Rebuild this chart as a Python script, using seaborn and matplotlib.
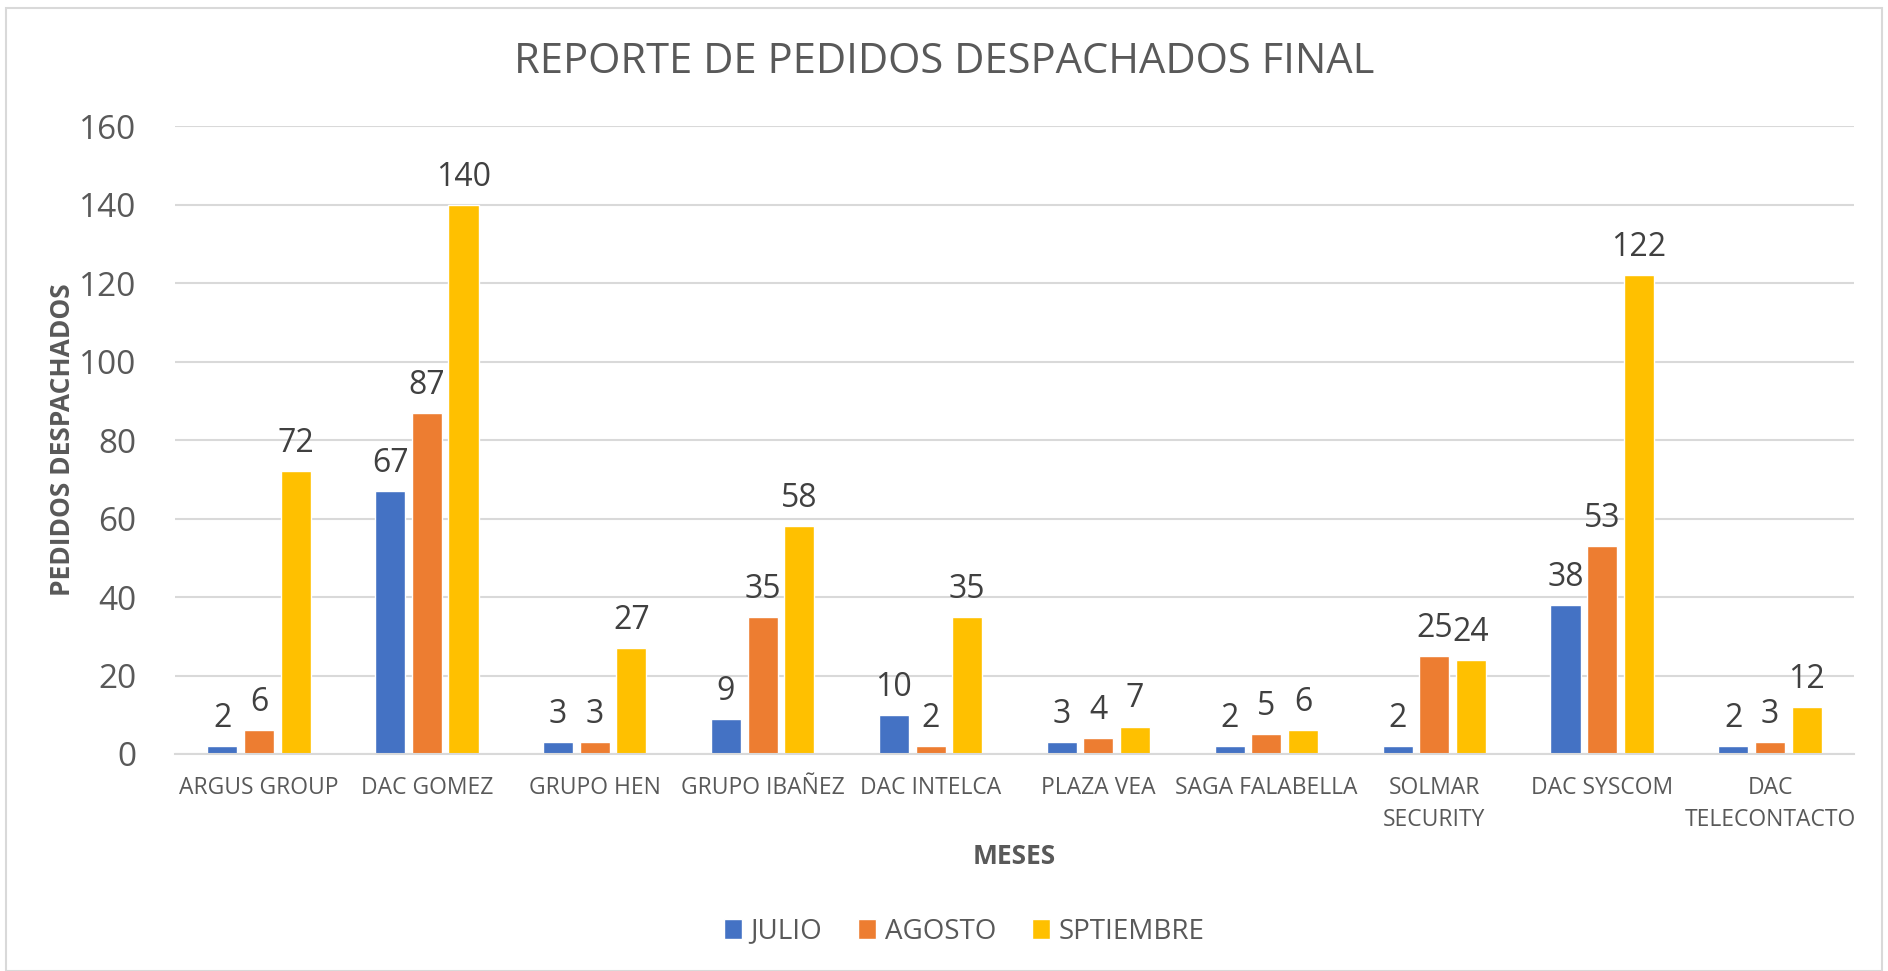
import pandas as pd
import seaborn as sns
import matplotlib.pyplot as plt
from matplotlib.patches import Rectangle

clientes = ['ARGUS GROUP', 'DAC GOMEZ', 'GRUPO HEN', 'GRUPO IBAÑEZ', 'DAC INTELCA',
            'PLAZA VEA', 'SAGA FALABELLA', 'SOLMAR\nSECURITY', 'DAC SYSCOM', 'DAC\nTELECONTACTO']
julio = [2, 67, 3, 9, 10, 3, 2, 2, 38, 2]
agosto = [6, 87, 3, 35, 2, 4, 5, 25, 53, 3]
septiembre = [72, 140, 27, 58, 35, 7, 6, 24, 122, 12]
meses = ['JULIO', 'AGOSTO', 'SPTIEMBRE']
colores = ['#4472C4', '#ED7D31', '#FFC000']

df = pd.concat([
    pd.DataFrame({'cliente': clientes, 'mes': m, 'pedidos': v})
    for m, v in zip(meses, [julio, agosto, septiembre])
])

sns.set_style('white')
plt.rcParams['font.family'] = ['Open Sans', 'DejaVu Sans']
txt = '#595959'

fig = plt.figure(figsize=(18.88, 9.71), dpi=100)
ax = fig.add_axes([0.0927, 0.2235, 0.8893, 0.6465])
fig.patches.append(Rectangle((0.003, 0.0), 0.994, 0.992, transform=fig.transFigure,
                             fill=False, edgecolor='#D9D9D9', linewidth=1.5))

sns.barplot(data=df, x='cliente', y='pedidos', hue='mes', palette=colores,
            width=0.655, gap=0.18, ax=ax, saturation=1)

for c in ax.containers:
    ax.bar_label(c, padding=8, fontsize=23, color='#404040')

ax.set_ylim(0, 160)
ax.set_yticks(range(0, 161, 20))
ax.yaxis.grid(True, color='#D9D9D9', linewidth=1.5)
ax.set_axisbelow(True)
for s in ['top', 'right', 'left']:
    ax.spines[s].set_visible(False)
ax.spines['bottom'].set_color('#D9D9D9')
ax.spines['bottom'].set_linewidth(1.5)
ax.tick_params(axis='y', length=0, labelsize=24, labelcolor=txt, pad=28)
ax.tick_params(axis='x', length=0, labelsize=16.5, labelcolor=txt, pad=16)
for t in ax.get_xticklabels():
    t.set_linespacing(1.45)
ax.set_xlim(-0.5, len(clientes) - 0.5)

ax.set_xlabel('MESES', fontsize=19, fontweight='bold', color=txt, labelpad=8)
ax.set_ylabel('PEDIDOS DESPACHADOS', fontsize=19, fontweight='bold', color=txt, labelpad=2)
fig.text(0.5, 0.936, 'REPORTE DE PEDIDOS DESPACHADOS FINAL', ha='center', va='center',
         fontsize=30, color=txt)

sns.move_legend(ax, 'lower center', bbox_to_anchor=(0.47, -0.345), ncol=3, frameon=False,
                title=None, fontsize=20, handlelength=0.65, handleheight=0.7,
                handletextpad=0.3, columnspacing=1.3)
for t in ax.get_legend().get_texts():
    t.set_color(txt)

fig.savefig('out.png', dpi=100)
